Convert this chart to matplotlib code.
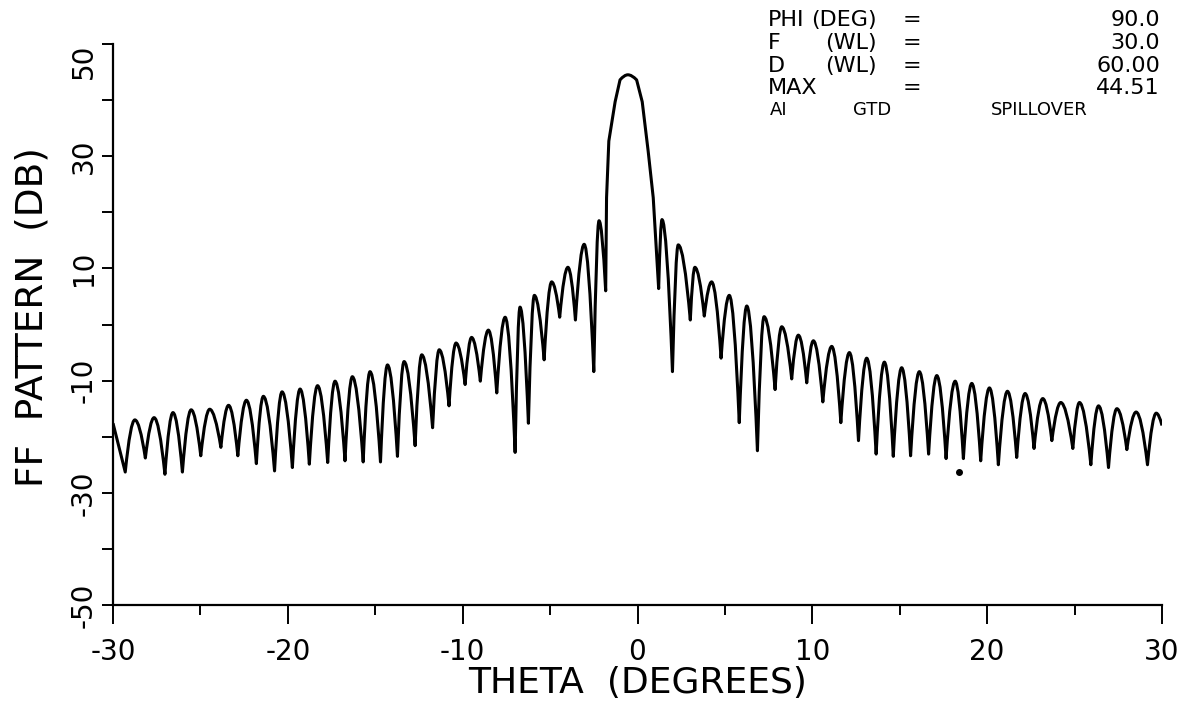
"""
Far-field pattern of a reflector antenna, theta cut at phi = 90 deg.
Peaks and nulls read off the plotter chart.
"""

import matplotlib
matplotlib.use("Agg")
import matplotlib.pyplot as plt
from matplotlib.path import Path
from matplotlib.patches import PathPatch
from matplotlib.ticker import MultipleLocator

# pattern: (theta in degrees, level in dB), read lobe by lobe
theta = [
    -30.0, -29.3, -28.75, -28.15, -27.65, -27.03, -26.57, -26.03, -25.53, -24.98,
    -24.47, -23.83, -23.39, -22.86, -22.37, -21.80, -21.40, -20.76, -20.33, -19.74,
    -19.30, -18.77, -18.30, -17.72, -17.30, -16.73, -16.31, -15.69, -15.30, -14.70,
    -14.30, -13.73, -13.35, -12.72, -12.34, -11.72, -11.34, -10.78, -10.38, -9.86,
    -9.49, -8.99, -8.53, -8.05, -7.57, -7.00, -6.72, -6.24, -5.90, -5.34,
    -4.91, -4.45, -3.98, -3.55, -3.05, -2.50, -2.20, -1.82, -1.77, -1.64,
    -1.28, -1.00, -0.55, -0.05, 0.27, 0.61, 0.90, 1.21, 1.40, 2.00,
    2.33, 3.02, 3.28, 3.82, 4.24, 4.78, 5.25, 5.82, 6.25, 6.86,
    7.24, 7.87, 8.25, 8.82, 9.20, 9.68, 10.06, 10.60, 11.11, 11.63,
    12.12, 12.64, 13.11, 13.65, 14.12, 14.63, 15.11, 15.62, 16.12, 16.65,
    17.12, 17.65, 18.17, 18.64, 19.12, 19.63, 20.13, 20.64, 21.16, 21.69,
    22.17, 22.68, 23.18, 23.70, 24.21, 24.90, 25.28, 25.93, 26.37, 26.94,
    27.42, 27.99, 28.52, 29.17, 29.67, 30.0,
]
level_db = [
    -17.6, -26.3, -17.0, -23.8, -16.6, -26.7, -15.7, -26.3, -15.2, -23.4,
    -15.1, -21.9, -14.4, -23.4, -13.5, -24.8, -12.8, -26.1, -12.0, -25.5,
    -11.5, -24.9, -10.9, -24.6, -10.1, -24.3, -9.3, -24.5, -8.4, -24.5,
    -7.2, -23.5, -6.6, -21.6, -5.4, -18.4, -4.5, -14.5, -3.3, -10.7,
    -2.3, -10.1, -1.0, -12.2, 1.3, -22.8, 3.1, -17.6, 5.2, -6.3,
    7.6, 1.3, 10.2, 0.8, 14.3, -8.4, 18.5, 6.0, 22.6, 32.7,
    39.7, 43.6, 44.51, 43.6, 39.7, 30.9, 22.6, 6.4, 18.7, -8.4,
    14.2, 0.8, 10.2, 1.5, 7.6, -6.0, 5.2, -17.5, 3.3, -22.5,
    1.4, -11.6, -0.4, -9.7, -1.9, -10.4, -2.9, -13.8, -3.9, -17.5,
    -5.0, -20.7, -6.0, -23.1, -6.7, -23.5, -7.7, -23.4, -8.4, -23.1,
    -9.1, -23.9, -10.1, -23.9, -10.5, -24.3, -11.3, -25.0, -11.9, -23.7,
    -12.3, -22.1, -13.2, -20.7, -13.9, -22.1, -13.9, -25.0, -14.5, -25.5,
    -15.0, -22.3, -15.6, -25.0, -15.8, -18.0,
]

# stray ink dot on the original plot
dot_theta = [18.4]
dot_db = [-26.3]

x_ticks = [-30, -20, -10, 0, 10, 20, 30]
y_ticks = [-50, -40, -30, -20, -10, 0, 10, 20, 30, 40, 50]
y_labels = ["-50", "", "-30", "", "-10", "", "10", "", "30", "", "50"]

info_rows = [
    ("PHI", "(DEG)", "=", "90.0"),
    ("F", "(WL)", "=", "30.0"),
    ("D", "(WL)", "=", "60.00"),
    ("MAX", "", "=", "44.51"),
]
info_footer = ["AI", "GTD", "SPILLOVER"]


def lobe_path(xs, ys, bend=0.55):
    """Path through the read points; lobe tops drawn as round caps
    (quadratic segments that arrive flat at each local maximum)."""
    n = len(xs)
    is_top = [0 < i < n - 1 and ys[i] > ys[i - 1] and ys[i] > ys[i + 1]
              for i in range(n)]
    verts = [(xs[0], ys[0])]
    codes = [Path.MOVETO]
    for i in range(1, n):
        x0, y0, x1, y1 = xs[i - 1], ys[i - 1], xs[i], ys[i]
        if is_top[i]:
            verts += [(x0 + bend * (x1 - x0), y1), (x1, y1)]
            codes += [Path.CURVE3, Path.CURVE3]
        elif is_top[i - 1]:
            verts += [(x1 - bend * (x1 - x0), y0), (x1, y1)]
            codes += [Path.CURVE3, Path.CURVE3]
        else:
            verts.append((x1, y1))
            codes.append(Path.LINETO)
    return Path(verts, codes)


W, H = 1202, 702
plt.rcParams["font.family"] = ["DejaVu Sans"]

fig = plt.figure(figsize=(W / 100, H / 100), dpi=100)
ax = fig.add_axes([113 / W, 1 - 605 / H, (1162 - 113) / W, (605 - 44) / H])

ax.add_patch(PathPatch(lobe_path(theta, level_db), fill=False,
                       edgecolor="black", linewidth=2.2, joinstyle="round"))
ax.plot(dot_theta, dot_db, "o", color="black", markersize=4)

ax.set_xlim(-30, 30)
ax.set_ylim(-50, 50)
ax.spines["top"].set_visible(False)
ax.spines["right"].set_visible(False)
ax.spines["left"].set_linewidth(1.6)
ax.spines["bottom"].set_linewidth(1.6)

ax.set_xticks(x_ticks)
ax.xaxis.set_minor_locator(MultipleLocator(5))
ax.set_xticklabels([str(v) for v in x_ticks], fontsize=20)
ax.tick_params(axis="x", which="major", direction="out", length=14, width=1.4, pad=10)
ax.tick_params(axis="x", which="minor", direction="out", length=7, width=1.4)

ax.set_yticks(y_ticks)
ax.set_yticklabels(y_labels, fontsize=20, rotation=90, va="center")
ax.get_yticklabels()[-1].set_va("top")
ax.tick_params(axis="y", which="major", direction="out", length=8, width=1.4, pad=3)

ax.set_xlabel("THETA  (DEGREES)", fontsize=26, labelpad=0)
ax.set_ylabel("FF  PATTERN  (DB)", fontsize=27)
ax.yaxis.set_label_coords(-0.060, 0.513)

# parameter block, top right
row_y = [20, 43, 66, 88]
for (name, unit, eq, val), yy in zip(info_rows, row_y):
    fy = 1 - yy / H
    fig.text(768 / W, fy, name, fontsize=16, va="center", ha="left")
    fig.text(877 / W, fy, unit, fontsize=16, va="center", ha="right")
    fig.text(912 / W, fy, eq, fontsize=16, va="center", ha="center")
    fig.text(1160 / W, fy, val, fontsize=16, va="center", ha="right")

fy = 1 - 110 / H
fig.text(770 / W, fy, info_footer[0], fontsize=13, va="center", ha="left")
fig.text(853 / W, fy, info_footer[1], fontsize=13, va="center", ha="left")
fig.text(1039 / W, fy, info_footer[2], fontsize=13, va="center", ha="center")

fig.savefig("out.png", dpi=100)
